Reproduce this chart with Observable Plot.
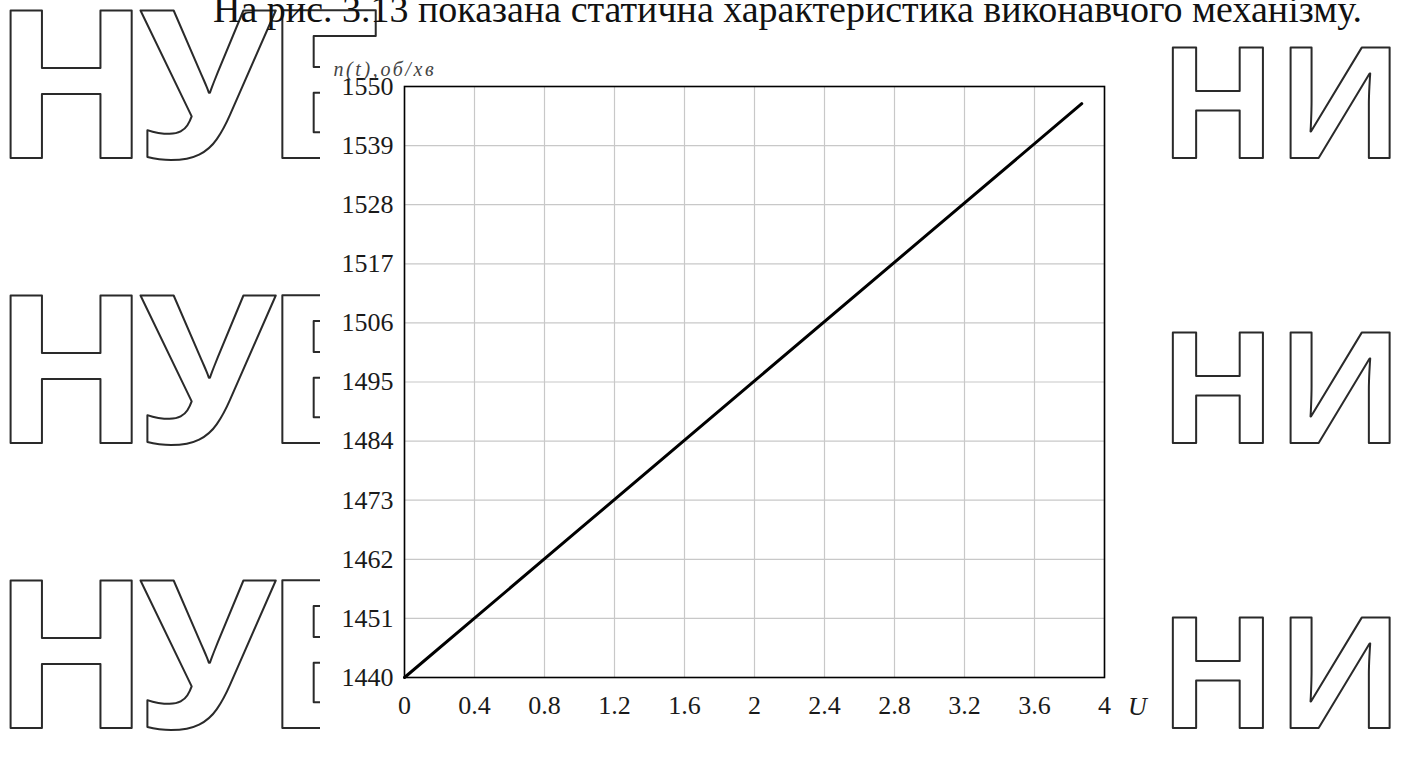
<!DOCTYPE html>
<html>
<head>
<meta charset="utf-8">
<script src="https://cdn.jsdelivr.net/npm/d3@7"></script>
<script src="https://cdn.jsdelivr.net/npm/@observablehq/plot@0.6"></script>
<style>
  html, body { margin: 0; padding: 0; background: #fff; }
  #page { position: relative; width: 1406px; height: 767px; overflow: hidden; background: #fff; }
  #wm { position: absolute; left: 0; top: 0; }
  #cover { position: absolute; left: 320px; top: 58px; width: 845px; height: 709px; background: #fff; }
  #chart { position: absolute; left: 0; top: 0; }
  #toptext { position: absolute; left: 213px; top: -10px; font-family: "Liberation Serif", serif; font-size: 38px; line-height: 1; color: #111; white-space: nowrap; }
</style>
</head>
<body>
<div id="page">
  <svg id="wm" width="1406" height="767"></svg>
  <div id="cover"></div>
  <div id="chart"></div>
  <div id="toptext"></div>
</div>
<script>
// ---- data ----
const pageText = "На рис. 3.13 показана статична характеристика виконавчого механізму.";
const xLabel = "U";
const yLabel = "n(t),об/хв";
const uValues = [0, 1, 2, 3, 3.87];
const nValues = [1440, 1467.6, 1495.2, 1522.8, 1546.8];
const xTicks = [0, 0.4, 0.8, 1.2, 1.6, 2, 2.4, 2.8, 3.2, 3.6, 4];
const yTicks = [1440, 1451, 1462, 1473, 1484, 1495, 1506, 1517, 1528, 1539, 1550];
const watermarkLeft = "НУБ";
const watermarkRight = "НИ";

document.getElementById("toptext").textContent = pageText;

// decorative watermark of the scanned page
const wm = d3.select("#wm");
const rows = [158, 443, 728];
for (const b of rows) {
  wm.append("text").attr("x", -8).attr("y", b).text(watermarkLeft)
    .attr("font-family", "Open Sans").attr("font-weight", 700).attr("font-size", 207)
    .attr("letter-spacing", -12)
    .attr("fill", "none").attr("stroke", "#2a2a2a").attr("stroke-width", 2).attr("stroke-linejoin", "round");
  wm.append("text").attr("x", 1159).attr("y", b).text(watermarkRight)
    .attr("font-family", "Open Sans").attr("font-weight", 700).attr("font-size", 154)
    .attr("fill", "none").attr("stroke", "#2a2a2a").attr("stroke-width", 2).attr("stroke-linejoin", "round");
}

const data = uValues.map((u, i) => ({U: u, n: nValues[i]}));

const plot = Plot.plot({
  width: 1406,
  height: 767,
  marginLeft: 404,
  marginRight: 302,
  marginTop: 86,
  marginBottom: 90,
  style: {background: "transparent", fontFamily: "Liberation Serif, serif", fontSize: "26px", color: "#1a1a1a"},
  x: {domain: [0, 4]},
  y: {domain: [1440, 1550]},
  marks: [
    Plot.gridX({ticks: xTicks, stroke: "#c8c8c8", strokeOpacity: 1, strokeWidth: 1.2}),
    Plot.gridY({ticks: yTicks, stroke: "#c8c8c8", strokeOpacity: 1, strokeWidth: 1.2}),
    Plot.axisX({ticks: xTicks, tickSize: 0, tickPadding: 18, label: null, tickFormat: d => String(d)}),
    Plot.axisY({ticks: yTicks, tickSize: 0, tickPadding: 11, label: null, tickFormat: d => String(d)}),
    Plot.line(data, {x: "U", y: "n", stroke: "#000", strokeWidth: 3}),
    Plot.frame({stroke: "#000", strokeWidth: 1.6}),
    Plot.text([xLabel], {frameAnchor: "bottom-right", dx: 33, dy: 29, text: d => d, textAnchor: "middle", lineAnchor: "middle", fontStyle: "italic", fontSize: 26}),
    Plot.text([yLabel], {frameAnchor: "top-left", dx: -71, dy: -17, text: d => d, textAnchor: "start", lineAnchor: "middle", fontStyle: "italic", fontSize: 20, fill: "#444"})
  ]
});
d3.select(plot).selectAll("text").filter(function() { return this.textContent === yLabel; })
  .attr("letter-spacing", 2.6);
document.getElementById("chart").appendChild(plot);
</script>
</body>
</html>
